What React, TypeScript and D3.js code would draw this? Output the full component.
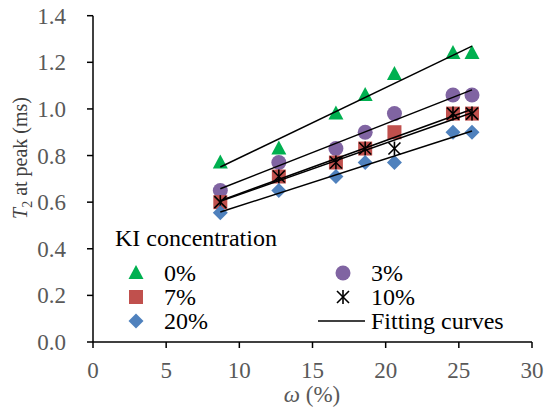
import React from 'react';
import * as d3 from 'd3';

// water content (%) for every sample
const omega = [8.7, 12.7, 16.6, 18.6, 20.6, 24.6, 25.9];

// T2 at peak (ms) per KI concentration
const ki0 = [0.77, 0.83, 0.98, 1.06, 1.15, 1.24, 1.24];
const ki3 = [0.65, 0.77, 0.83, 0.9, 0.98, 1.06, 1.06];
const ki7 = [0.6, 0.71, 0.77, 0.83, 0.9, 0.98, 0.98];
const ki10 = [0.6, 0.71, 0.77, 0.83, 0.83, 0.98, 0.98];
const ki20 = [0.555, 0.65, 0.71, 0.77, 0.77, 0.9, 0.9];

const xTicks = [0, 5, 10, 15, 20, 25, 30];
const yTicks = [0, 0.2, 0.4, 0.6, 0.8, 1.0, 1.2, 1.4];

type Shape = 'triangle' | 'circle' | 'square' | 'star' | 'diamond';

const series: { label: string; values: number[]; color: string; shape: Shape }[] = [
  { label: '0%', values: ki0, color: '#00b050', shape: 'triangle' },
  { label: '3%', values: ki3, color: '#8064a2', shape: 'circle' },
  { label: '7%', values: ki7, color: '#c0504d', shape: 'square' },
  { label: '10%', values: ki10, color: '#000000', shape: 'star' },
  { label: '20%', values: ki20, color: '#4f81bd', shape: 'diamond' },
];

const W = 550;
const H = 414;
const left = 93;
const right = 532;
const top = 15.7;
const bottom = 342;

const x = d3.scaleLinear().domain([0, 30]).range([left, right]);
const y = d3.scaleLinear().domain([0, 1.4]).range([bottom, top]);

const serif = 'Liberation Serif';

// least-squares line through a series
function fit(xs: number[], ys: number[]) {
  const mx = d3.mean(xs) as number;
  const my = d3.mean(ys) as number;
  const sxy = d3.sum(xs, (v, i) => (v - mx) * (ys[i] - my));
  const sxx = d3.sum(xs, v => (v - mx) * (v - mx));
  const b = sxy / sxx;
  const a = my - b * mx;
  return (v: number) => a + b * v;
}

const Marker: React.FC<{ shape: Shape; color: string; cx: number; cy: number }> = ({ shape, color, cx, cy }) => {
  if (shape === 'circle') return <circle cx={cx} cy={cy} r={7.5} fill={color} />;
  if (shape === 'square') return <rect x={cx - 7} y={cy - 7} width={14} height={14} fill={color} />;
  if (shape === 'triangle') {
    const p = `${cx},${cy - 8} ${cx + 7.5},${cy + 6} ${cx - 7.5},${cy + 6}`;
    return <polygon points={p} fill={color} />;
  }
  if (shape === 'diamond') {
    const p = `${cx},${cy - 7.5} ${cx + 7.5},${cy} ${cx},${cy + 7.5} ${cx - 7.5},${cy}`;
    return <polygon points={p} fill={color} />;
  }
  const s = 6;
  return (
    <g stroke={color} strokeWidth={1.6}>
      <line x1={cx - s} y1={cy - s} x2={cx + s} y2={cy + s} />
      <line x1={cx - s} y1={cy + s} x2={cx + s} y2={cy - s} />
      <line x1={cx} y1={cy - s - 1} x2={cx} y2={cy + s + 1} />
    </g>
  );
};

const App: React.FC = () => {
  const xMin = d3.min(omega) as number;
  const xMax = d3.max(omega) as number;

  // legend: two columns, Excel style
  const legendItems = [
    { ...series[0], col: 0, row: 0 },
    { ...series[1], col: 1, row: 0 },
    { ...series[2], col: 0, row: 1 },
    { ...series[3], col: 1, row: 1 },
    { ...series[4], col: 0, row: 2 },
  ];
  const colMarker = [136, 343];
  const colText = [164, 371];
  const rowY = [273, 297, 321];

  return (
    <svg width={W} height={H} style={{ position: 'absolute', left: 0, top: 0 }}>
      <rect width={W} height={H} fill="#fff" />

      {/* markers */}
      {series.map(s => (
        <g key={s.label}>
          {s.values.map((v, i) => (
            <Marker key={i} shape={s.shape} color={s.color} cx={x(omega[i])} cy={y(v)} />
          ))}
        </g>
      ))}

      {/* fitting lines */}
      {series.map(s => {
        const f = fit(omega, s.values);
        return (
          <line
            key={'fit' + s.label}
            x1={x(xMin)}
            y1={y(f(xMin))}
            x2={x(xMax)}
            y2={y(f(xMax))}
            stroke="#000"
            strokeWidth={1.5}
          />
        );
      })}

      {/* axes */}
      <line x1={left} y1={bottom} x2={right} y2={bottom} stroke="#000" strokeWidth={1.5} />
      <line x1={left} y1={bottom} x2={left} y2={top} stroke="#000" strokeWidth={1.5} />
      {xTicks.map(t => (
        <g key={'x' + t}>
          <line x1={x(t)} y1={bottom} x2={x(t)} y2={bottom + 6} stroke="#000" strokeWidth={1.5} />
          <text x={x(t)} y={378} textAnchor="middle" fontSize={23} fill="#595959" fontFamily={serif}>
            {t}
          </text>
        </g>
      ))}
      {yTicks.map(t => (
        <g key={'y' + t}>
          <line x1={left - 6} y1={y(t)} x2={left} y2={y(t)} stroke="#000" strokeWidth={1.5} />
          <text x={66} y={y(t)} dy="0.35em" textAnchor="end" fontSize={23} fill="#595959" fontFamily={serif}>
            {t.toFixed(1)}
          </text>
        </g>
      ))}

      {/* axis titles */}
      <text x={312} y={402} textAnchor="middle" fontSize={23} fill="#595959" fontFamily={serif}>
        <tspan fontStyle="italic">ω</tspan> (%)
      </text>
      <text transform="translate(27,158) rotate(-90)" textAnchor="middle" fontSize={20} fill="#404040" fontFamily={serif}>
        <tspan fontStyle="italic">T</tspan>
        <tspan fontSize={14} dy={5}>2</tspan>
        <tspan dy={-5}> at peak (ms)</tspan>
      </text>

      {/* legend */}
      <text x={115} y={246} fontSize={24} fill="#000" fontFamily={serif}>
        KI concentration
      </text>
      {legendItems.map(it => (
        <g key={'lg' + it.label}>
          <Marker shape={it.shape} color={it.color} cx={colMarker[it.col]} cy={rowY[it.row]} />
          <text x={colText[it.col]} y={rowY[it.row] + 8} fontSize={24} fill="#000" fontFamily={serif}>
            {it.label}
          </text>
        </g>
      ))}
      <line x1={318} y1={rowY[2]} x2={365} y2={rowY[2]} stroke="#000" strokeWidth={1.5} />
      <text x={colText[1]} y={rowY[2] + 8} fontSize={24} fill="#000" fontFamily={serif}>
        Fitting curves
      </text>
    </svg>
  );
};

export default App;
